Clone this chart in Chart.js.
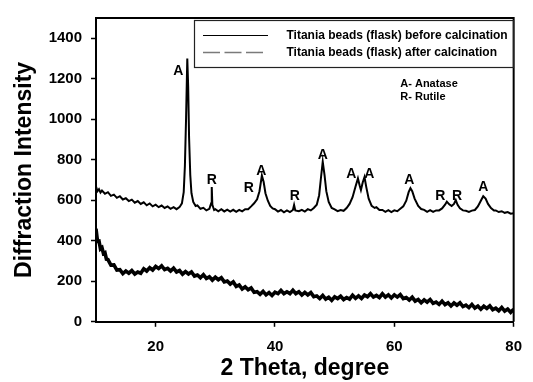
<!DOCTYPE html>
<html>
<head>
<meta charset="utf-8">
<script src="https://cdn.jsdelivr.net/npm/chart.js@4.4.1/dist/chart.umd.min.js"></script>
<style>
  html, body { margin: 0; padding: 0; background: #ffffff; }
  #wrap { width: 533px; height: 382px; }
</style>
</head>
<body>
<div id="wrap"><canvas id="c" width="533" height="382"></canvas></div>
<script>
// ---- data ----
const seriesLabels = [
  "Titania beads (flask) before calcination",
  "Titania beads (flask) after calcination"
];
const xTicks = [20, 40, 60, 80];
const yTicks = [0, 200, 400, 600, 800, 1000, 1200, 1400];

// before calcination (amorphous, lower curve)
const beforeX = [10,10.25,10.5,10.75,11,11.25,11.5,11.75,12,12.5,13,13.5,14,14.5,15,15.5,16,16.5,17,17.5,18,18.5,19,19.5,20,20.5,21,21.5,22,22.5,23,23.5,24,24.5,25,25.5,26,26.5,27,27.5,28,28.5,29,29.5,30,30.5,31,31.5,32,32.5,33,33.5,34,34.5,35,35.5,36,36.5,37,37.5,38,38.5,39,39.5,40,40.5,41,41.5,42,42.5,43,43.5,44,44.5,45,45.5,46,46.5,47,47.5,48,48.5,49,49.5,50,50.5,51,51.5,52,52.5,53,53.5,54,54.5,55,55.5,56,56.5,57,57.5,58,58.5,59,59.5,60,60.5,61,61.5,62,62.5,63,63.5,64,64.5,65,65.5,66,66.5,67,67.5,68,68.5,69,69.5,70,70.5,71,71.5,72,72.5,73,73.5,74,74.5,75,75.5,76,76.5,77,77.5,78,78.5,79,79.5,80];
const beforeY = [459,398,399,360,366,337,341,309,307,280,281,255,257,238,251,240,253,236,246,240,262,251,267,256,273,263,276,258,264,251,265,246,253,235,248,236,246,226,231,218,233,214,222,206,220,208,218,197,201,186,197,175,182,162,173,158,167,146,149,136,150,133,144,130,146,139,155,139,148,139,156,139,148,132,145,133,144,124,128,115,130,112,121,106,123,115,126,110,120,112,131,116,128,115,132,124,139,122,130,120,138,122,133,118,133,122,134,115,120,107,121,102,110,94,108,97,110,91,97,86,102,85,94,78,93,82,94,75,82,70,86,68,78,62,77,66,79,60,67,55,71,53,63,47,62];

// after calcination (crystalline, upper curve)
const afterX = [10,10.25,10.5,10.75,11,11.5,12,12.5,13,13.5,14,14.5,15,15.5,16,16.5,17,17.5,18,18.5,19,19.5,20,20.5,21,21.5,22,22.5,23,23.5,24,24.4,24.7,24.9,25.1,25.3,25.45,25.6,25.8,26,26.3,26.7,27,27.5,28,28.5,29,29.3,29.4,29.5,29.8,30,30.5,31,31.5,32,32.5,33,33.5,34,34.5,35,35.5,36,36.5,37,37.4,37.8,38.1,38.4,38.8,39.2,39.6,40,40.5,41,41.5,42,42.5,43,43.2,43.4,44,44.5,45,45.5,46,46.5,47,47.4,47.7,48,48.3,48.6,49,49.5,50,50.5,51,51.5,52,52.5,53,53.5,53.9,54.2,54.4,54.7,55,55.3,55.7,56.2,56.7,57,57.5,58,58.5,59,59.5,60,60.5,61,61.5,62,62.4,62.7,63,63.4,64,64.5,65,65.5,66,66.5,67,67.5,68,68.5,68.8,69.2,69.6,70,70.3,70.6,71,71.5,72,72.5,73,73.5,74,74.5,74.9,75.3,75.7,76.2,76.7,77,77.5,78,78.5,79,79.5,80];
const afterY = [668,645,655,638,648,632,640,622,628,612,620,604,610,596,603,588,596,582,590,575,584,570,578,566,574,562,570,558,566,556,566,585,640,770,1010,1300,1160,910,725,635,592,572,575,558,563,550,558,585,665,578,552,556,546,556,545,554,544,553,543,553,545,556,556,570,585,605,645,722,690,635,598,572,560,556,544,552,541,550,542,552,577,550,546,553,544,556,550,562,578,625,710,790,725,645,592,562,555,546,552,548,562,582,615,668,708,672,651,688,715,665,608,572,562,566,552,552,543,551,542,550,546,558,570,598,640,660,645,608,572,557,553,543,551,543,550,550,560,578,593,580,572,582,601,578,560,550,548,543,549,552,570,598,620,608,582,562,550,550,542,546,538,542,534,536];

// peak annotations
const peakText = ["A","R","R","A","R","A","A","A","A","R","R","A"];
const peakX    = [23.8,29.4,35.6,37.7,43.3,48.0,52.8,55.8,62.5,67.7,70.5,74.9];
const peakY    = [1240,700,660,742,622,822,731,731,700,621,621,665];
const phaseText = ["A- Anatase", "R- Rutile"];
const phaseX = [61.0, 61.0];
const phaseY = [1175, 1109];

// ---- chart ----
const FONT = "'Liberation Sans', Arial, Helvetica, sans-serif";

const extras = {
  id: 'extras',
  afterDraw(chart) {
    const ctx = chart.ctx;
    const a = chart.chartArea;
    const xs = chart.scales.x, ys = chart.scales.y;
    ctx.save();
    // top & right frame
    ctx.strokeStyle = '#000';
    ctx.lineWidth = 2;
    ctx.beginPath();
    ctx.moveTo(a.left, a.top);
    ctx.lineTo(a.right, a.top);
    ctx.lineTo(a.right, a.bottom);
    ctx.stroke();

    // legend box
    const bx = 194.5, by = 20.5, bw = 319, bh = 47;
    ctx.lineWidth = 1.2;
    ctx.strokeStyle = '#222';
    ctx.strokeRect(bx, by, bw, bh);
    // solid sample
    ctx.beginPath();
    ctx.lineWidth = 1.2;
    ctx.strokeStyle = '#000';
    ctx.moveTo(203, 35.5);
    ctx.lineTo(268, 35.5);
    ctx.stroke();
    // dashed sample
    ctx.beginPath();
    ctx.setLineDash([17, 4.5]);
    ctx.lineWidth = 1.5;
    ctx.strokeStyle = '#7a7a7a';
    ctx.moveTo(203, 52.5);
    ctx.lineTo(263, 52.5);
    ctx.stroke();
    ctx.setLineDash([]);
    ctx.fillStyle = '#000';
    ctx.font = "bold 12px " + FONT;
    ctx.textAlign = 'left';
    ctx.textBaseline = 'middle';
    ctx.fillText(seriesLabels[0], 286.5, 36);
    ctx.fillText(seriesLabels[1], 286.5, 53);

    // phase key
    ctx.font = "bold 11px " + FONT;
    for (let i = 0; i < phaseText.length; i++) {
      ctx.fillText(phaseText[i], xs.getPixelForValue(phaseX[i]), ys.getPixelForValue(phaseY[i]));
    }
    // peak letters
    ctx.font = "bold 14px " + FONT;
    ctx.textAlign = 'center';
    for (let i = 0; i < peakText.length; i++) {
      ctx.fillText(peakText[i], xs.getPixelForValue(peakX[i]), ys.getPixelForValue(peakY[i]));
    }
    ctx.restore();
  }
};

new Chart(document.getElementById('c'), {
  type: 'line',
  data: {
    datasets: [
      {
        label: seriesLabels[0],
        data: beforeX.map((x, i) => ({x: x, y: beforeY[i]})),
        borderColor: '#000',
        borderWidth: 3.6,
        pointRadius: 0,
        tension: 0,
        fill: false
      },
      {
        label: seriesLabels[1],
        data: afterX.map((x, i) => ({x: x, y: afterY[i]})),
        borderColor: '#000',
        borderWidth: 2,
        pointRadius: 0,
        tension: 0,
        fill: false
      }
    ]
  },
  options: {
    responsive: false,
    devicePixelRatio: 1,
    animation: false,
    events: [],
    layout: { padding: { top: 16, right: 9.5, left: 0, bottom: 0 } },
    plugins: { legend: { display: false }, tooltip: { enabled: false }, title: { display: false } },
    scales: {
      x: {
        type: 'linear',
        min: 10, max: 80,
        afterFit: s => { s.height = 60.2; },
        afterBuildTicks: s => { s.ticks = xTicks.map(v => ({value: v})); },
        grid: { drawOnChartArea: false, drawTicks: true, tickLength: 5, tickColor: '#000', tickWidth: 1.5 },
        border: { display: true, color: '#000', width: 2 },
        ticks: { color: '#000', font: { family: FONT, size: 15, weight: 'bold' }, padding: 11, maxRotation: 0, callback: v => String(v) },
        title: { display: true, text: '2 Theta, degree', color: '#000', font: { family: FONT, size: 23, weight: 'bold', lineHeight: 1.2 }, padding: { top: 0, bottom: 0 } }
      },
      y: {
        type: 'linear',
        min: 0, max: 1500,
        afterFit: s => { s.width = 96; },
        afterBuildTicks: s => { s.ticks = yTicks.map(v => ({value: v})); },
        grid: { drawOnChartArea: false, drawTicks: true, tickLength: 5, tickColor: '#000', tickWidth: 1.5 },
        border: { display: true, color: '#000', width: 2 },
        ticks: { color: '#000', font: { family: FONT, size: 15, weight: 'bold' }, padding: 9, callback: v => String(v) },
        title: { display: true, text: 'Diffraction Intensity', color: '#000', font: { family: FONT, size: 23, weight: 'bold', lineHeight: 1.2 }, padding: { top: 10.4, bottom: 0 } }
      }
    }
  },
  plugins: [extras]
});
</script>
</body>
</html>
